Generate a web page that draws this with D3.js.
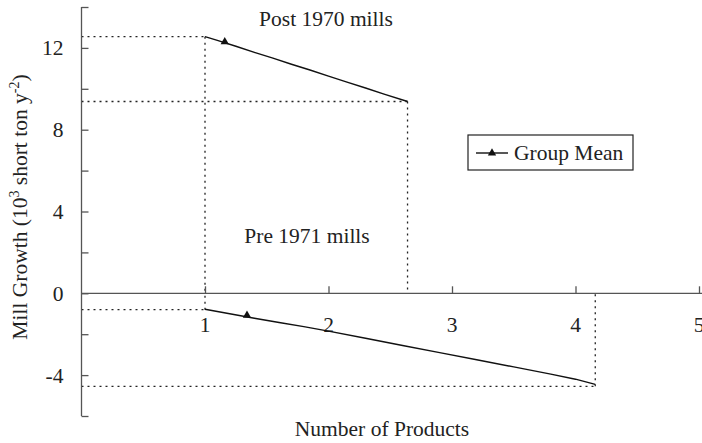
<!DOCTYPE html>
<html>
<head>
<meta charset="utf-8">
<script src="https://cdn.jsdelivr.net/npm/d3@7"></script>
<style>
  html, body { margin: 0; padding: 0; background: #fff; }
  svg { display: block; font-family: "Liberation Serif", "Times New Roman", serif; }
</style>
</head>
<body>
<div id="chart"></div>
<script>
// values
const xTicks = [1, 2, 3, 4, 5];
const yTicks = [-6, -4, -2, 0, 2, 4, 6, 8, 10, 12, 14];
const yLabels = [-4, 0, 4, 8, 12];

// post 1970 mills: number of products vs growth
const postX = [1.00, 1.10, 1.25, 1.40, 1.55, 1.70, 1.85, 2.00, 2.15, 2.30, 2.45, 2.64];
const postY = [12.55, 12.37, 12.08, 11.78, 11.50, 11.20, 10.92, 10.62, 10.33, 10.04, 9.74, 9.38];
const postMarker = [1.16, 12.30];

// pre 1971 mills
const preX = [1.00, 1.20, 1.40, 1.60, 1.80, 2.00, 2.30, 2.60, 2.90, 3.20, 3.50, 3.80, 4.00, 4.16];
const preY = [-0.78, -1.00, -1.22, -1.43, -1.63, -1.85, -2.20, -2.55, -2.90, -3.25, -3.60, -3.95, -4.20, -4.45];
const preMarker = [1.34, -1.08];

// dotted guide levels
const guideX = [1.00, 2.64, 1.00, 4.16];
const guideY = [12.55, 9.38, -0.80, -4.55];

const width = 702, height = 443;
const fs = 21.5;

const x = d3.scaleLinear().domain([0, 5]).range([81.5, 699]);
const y = d3.scaleLinear().domain([-6, 14]).range([416, 7]);

const svg = d3.select("#chart").append("svg")
  .attr("width", width)
  .attr("height", height);

const axisColor = "#555";

// dotted reference lines
const dots = svg.append("g")
  .attr("fill", "none")
  .attr("stroke", "#222")
  .attr("stroke-width", 1.3)
  .attr("stroke-dasharray", "2,4");

guideX.forEach((xv, i) => {
  const yv = guideY[i];
  dots.append("line")
    .attr("x1", x(0)).attr("x2", x(xv))
    .attr("y1", y(yv)).attr("y2", y(yv));
  dots.append("line")
    .attr("x1", x(xv)).attr("x2", x(xv))
    .attr("y1", y(yv)).attr("y2", y(0));
});

// y axis
const yAxis = svg.append("g")
  .attr("transform", `translate(${x(0)},0)`)
  .call(d3.axisRight(y).tickValues(yTicks).tickSize(7).tickFormat(""));
yAxis.select(".domain").attr("stroke", axisColor).attr("stroke-width", 1.3)
  .attr("d", `M0,${y(14)}V${y(-6)}`);
yAxis.selectAll(".tick line").attr("stroke", axisColor).attr("stroke-width", 1.3);

svg.append("g")
  .selectAll("text")
  .data(yLabels)
  .join("text")
    .attr("x", x(0) - 18)
    .attr("y", d => y(d))
    .attr("dy", "0.35em")
    .attr("text-anchor", "end")
    .attr("font-size", fs)
    .attr("fill", "#222")
    .text(d => d);

// x axis at zero
const xAxis = svg.append("g")
  .attr("transform", `translate(0,${y(0)})`)
  .call(d3.axisTop(x).tickValues(xTicks).tickSize(7).tickFormat(""));
xAxis.select(".domain").attr("stroke", axisColor).attr("stroke-width", 1.3)
  .attr("d", `M${x(0)},0H${width}`);
xAxis.selectAll(".tick line").attr("stroke", axisColor).attr("stroke-width", 1.3);

svg.append("g")
  .selectAll("text")
  .data(xTicks)
  .join("text")
    .attr("x", d => x(d))
    .attr("y", y(0) + 39)
    .attr("text-anchor", "middle")
    .attr("font-size", fs)
    .attr("fill", "#222")
    .text(d => d);

// series lines
const line = d3.line().x(d => x(d[0])).y(d => y(d[1]));
const tri = d3.symbol().type(d3.symbolTriangle).size(30);

function series(xs, ys, marker) {
  svg.append("path")
    .datum(xs.map((v, i) => [v, ys[i]]))
    .attr("fill", "none")
    .attr("stroke", "#111")
    .attr("stroke-width", 1.4)
    .attr("d", line);
  svg.append("path")
    .attr("d", tri)
    .attr("transform", `translate(${x(marker[0])},${y(marker[1])})`)
    .attr("fill", "#111");
}
series(postX, postY, postMarker);
series(preX, preY, preMarker);

// annotations
svg.append("text")
  .attr("x", 326).attr("y", 26)
  .attr("text-anchor", "middle")
  .attr("font-size", fs)
  .attr("fill", "#222")
  .text("Post 1970 mills");

svg.append("text")
  .attr("x", 307).attr("y", 243)
  .attr("text-anchor", "middle")
  .attr("font-size", fs)
  .attr("fill", "#222")
  .text("Pre 1971 mills");

// legend
const legend = svg.append("g").attr("transform", "translate(468,135)");
legend.append("rect")
  .attr("width", 165).attr("height", 35)
  .attr("fill", "#fff")
  .attr("stroke", "#222")
  .attr("stroke-width", 1.2);
legend.append("line")
  .attr("x1", 8).attr("x2", 40)
  .attr("y1", 18).attr("y2", 18)
  .attr("stroke", "#111").attr("stroke-width", 1.4);
legend.append("path")
  .attr("d", tri)
  .attr("transform", "translate(24,18)")
  .attr("fill", "#111");
legend.append("text")
  .attr("x", 46).attr("y", 25)
  .attr("font-size", fs)
  .attr("fill", "#222")
  .text("Group Mean");

// axis titles
svg.append("text")
  .attr("x", 382).attr("y", 436)
  .attr("text-anchor", "middle")
  .attr("font-size", fs)
  .attr("fill", "#222")
  .text("Number of Products");

const yt = svg.append("text")
  .attr("transform", `translate(27,207) rotate(-90)`)
  .attr("text-anchor", "middle")
  .attr("font-size", fs)
  .attr("fill", "#222");
yt.append("tspan").text("Mill Growth (10");
yt.append("tspan").attr("font-size", 14).attr("dy", -8).text("3");
yt.append("tspan").attr("dy", 8).text(" short ton y");
yt.append("tspan").attr("font-size", 14).attr("dy", -8).text("-2");
yt.append("tspan").attr("dy", 8).text(")");
</script>
</body>
</html>
